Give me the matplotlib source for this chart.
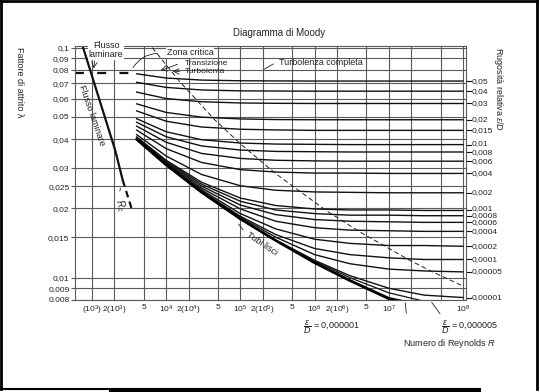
import matplotlib.pyplot as plt
from matplotlib.lines import Line2D
from matplotlib.transforms import offset_copy

plt.rcParams['font.family'] = ['Liberation Sans', 'DejaVu Sans']
plt.rcParams['mathtext.fontset'] = 'custom'
plt.rcParams['mathtext.rm'] = 'Liberation Sans'
plt.rcParams['mathtext.it'] = 'Liberation Sans:italic'
plt.rcParams['mathtext.cal'] = 'Liberation Sans'

W, H = 540, 392
TXT = '#222222'
GRID = '#5a5a5a'

# -- values --
re_pts = [4e3, 1e4, 3e4, 1e5, 3e5, 1e6, 3e6, 1e7, 3e7, 1e8]

f_05 = [0.0770, 0.0738, 0.0723, 0.0718, 0.0717, 0.0716, 0.0716, 0.0716, 0.0716, 0.0716]
f_04 = [0.0707, 0.0672, 0.0655, 0.0649, 0.0648, 0.0647, 0.0647, 0.0647, 0.0647, 0.0647]
f_03 = [0.0641, 0.0601, 0.0582, 0.0575, 0.0573, 0.0572, 0.0572, 0.0572, 0.0572, 0.0572]
f_02 = [0.0570, 0.0523, 0.0499, 0.0490, 0.0487, 0.0486, 0.0486, 0.0486, 0.0486, 0.0486]
f_015 = [0.0531, 0.0479, 0.0452, 0.0442, 0.0439, 0.0437, 0.0437, 0.0437, 0.0437, 0.0437]
f_01 = [0.0491, 0.0431, 0.0398, 0.0385, 0.0381, 0.0380, 0.0379, 0.0379, 0.0379, 0.0379]
f_008 = [0.0474, 0.0410, 0.0374, 0.0359, 0.0354, 0.0353, 0.0352, 0.0352, 0.0352, 0.0352]
f_006 = [0.0456, 0.0388, 0.0347, 0.0330, 0.0324, 0.0322, 0.0321, 0.0321, 0.0321, 0.0321]
f_004 = [0.0438, 0.0364, 0.0317, 0.0295, 0.0288, 0.0285, 0.0285, 0.0284, 0.0284, 0.0284]
f_002 = [0.0419, 0.0338, 0.0281, 0.0251, 0.0240, 0.0236, 0.0235, 0.0234, 0.0234, 0.0234]
f_001 = [0.0409, 0.0324, 0.0260, 0.0222, 0.0206, 0.0199, 0.0197, 0.0197, 0.0196, 0.0196]
f_0008 = [0.0407, 0.0321, 0.0255, 0.0215, 0.0197, 0.0190, 0.0187, 0.0187, 0.0186, 0.0186]
f_0006 = [0.0405, 0.0318, 0.0250, 0.0207, 0.0188, 0.0179, 0.0176, 0.0175, 0.0174, 0.0174]
f_0004 = [0.0403, 0.0315, 0.0245, 0.0199, 0.0176, 0.0165, 0.0161, 0.0160, 0.0159, 0.0159]
f_0002 = [0.0401, 0.0312, 0.0241, 0.0190, 0.0163, 0.0147, 0.0141, 0.0138, 0.0138, 0.0137]
f_0001 = [0.0400, 0.0311, 0.0238, 0.0185, 0.0154, 0.0134, 0.0126, 0.0122, 0.0120, 0.0120]
f_00005 = [0.0400, 0.0310, 0.0237, 0.0183, 0.0150, 0.0126, 0.0115, 0.0109, 0.0107, 0.0106]
f_00001 = [0.0399, 0.0309, 0.0235, 0.0180, 0.0146, 0.0119, 0.0102, 0.0090, 0.0084, 0.0082]
f_000005 = [0.0399, 0.0309, 0.0235, 0.0180, 0.0145, 0.0118, 0.0100, 0.0086, 0.0079, 0.0075]
f_000001 = [0.0399, 0.0309, 0.0235, 0.0180, 0.0145, 0.0117, 0.0098, 0.0082, 0.0076, 0.0072]
f_smooth = [0.0399, 0.0309, 0.0235, 0.0180, 0.0145, 0.0116, 0.0097, 0.0081, 0.0074, 0.0070]

rough_labels = ['0,05', '0,04', '0,03', '0,02', '0,015', '0,01', '0,008', '0,006',
                '0,004', '0,002', '0,001', '0,0008', '0,0006', '0,0004', '0,0002',
                '0,0001', '0,00005', '0,00001']
rough_curves = [f_05, f_04, f_03, f_02, f_015, f_01, f_008, f_006, f_004, f_002,
                f_001, f_0008, f_0006, f_0004, f_0002, f_0001, f_00005, f_00001]

# laminar flow line (solid, then dashed up to the critical zone)
lam_re = [760, 2050, 2600]
lam_f = [0.100, 0.0359, 0.0265]
lam_dash_re = [2600, 3500]
lam_dash_f = [0.0265, 0.0195]

# dashed level between laminar and turbulent
trans_re = [590, 4000]
trans_f = [0.078, 0.078]

# limit of complete turbulence
bound_re = [6500, 15000, 45000, 1.03e5, 2.97e5, 1.43e6, 3.97e6, 1.83e7, 3.9e7, 1e8]
bound_f = [0.100, 0.0716, 0.0486, 0.0379, 0.0284, 0.0196, 0.0159, 0.0120, 0.0106, 0.0092]

x_ticks = [1e3, 2e3, 5e3, 1e4, 2e4, 5e4, 1e5, 2e5, 5e5, 1e6, 2e6, 5e6, 1e7, 2e7, 5e7, 1e8]
x_labels = ['(10$^3$)', '2(10$^3$)', '5', '10$^4$', '2(10$^4$)', '5', '10$^5$', '2(10$^5$)',
            '5', '10$^6$', '2(10$^6$)', '5', '10$^7$', '', '', '10$^8$']
y_ticks = [0.1, 0.09, 0.08, 0.07, 0.06, 0.05, 0.04, 0.03, 0.025, 0.02, 0.015,
           0.01, 0.009, 0.008]
y_labels = ['0,1', '0,09', '0,08', '0,07', '0,06', '0.05', '0,04', '0,03', '0,025',
            '0,02', '0,015', '0,01', '0,009', '0.008']

# small vertical nudges (pixels) so crowded right-hand labels stay readable
label_nudge = {'0,01': 0.8, '0,008': -0.4, '0,001': 2.3, '0,0006': -0.6}


def fig_xy(x, y):
    return x / W, 1 - y / H


fig = plt.figure(figsize=(W / 100, H / 100), dpi=100)
ax = fig.add_axes([75 / W, 1 - 300 / H, (466 - 75) / W, (300 - 46) / H])
ax.set_xscale('log')
ax.set_yscale('log')
ax.set_xlim(590, 1.1e8)
ax.set_ylim(0.008, 0.1017)

ax.set_xticks(x_ticks)
ax.set_xticklabels(x_labels)
ax.set_yticks(y_ticks)
ax.set_yticklabels(y_labels)
ax.minorticks_off()
ax.grid(True, color=GRID, lw=0.8)
ax.tick_params(axis='x', length=0, pad=3, labelsize=6, labelcolor=TXT)
ax.tick_params(axis='y', length=3, width=0.8, color=GRID, pad=1, labelsize=6, labelcolor=TXT)
for sp in ax.spines.values():
    sp.set_color(GRID)
    sp.set_linewidth(0.8)

# curves
ytrans = ax.get_yaxis_transform()
for lab, f in zip(rough_labels, rough_curves):
    ax.plot(re_pts, f, color='#111111', lw=1.0)
    y = f[-1]
    ax.plot([1.0, 1.012], [y, y], color='#111111', lw=0.8,
            transform=ytrans, clip_on=False)
    tr = offset_copy(ytrans, fig=fig, y=label_nudge.get(lab, 0), units='dots')
    ax.text(1.014, y, lab, transform=tr, fontsize=6, va='center', ha='left', color=TXT)

ax.plot(re_pts, f_000005, color='#111111', lw=0.9)
ax.plot(re_pts, f_000001, color='#111111', lw=0.9)
ax.plot(re_pts, f_smooth, color='#000000', lw=1.8)

ax.plot(lam_re, lam_f, color='#111111', lw=1.6)
ax.plot(lam_dash_re, lam_dash_f, color='#111111', lw=1.6, dashes=(3, 2))
ax.plot(trans_re, trans_f, color='#111111', lw=1.6, dashes=(4, 6))
ax.plot(bound_re, bound_f, color='#222222', lw=0.7, dashes=(5, 3))

# annotations
box = dict(facecolor='white', edgecolor='none', pad=0.5)
arr = dict(arrowstyle='-', color='#222222', lw=0.6)

ax.text(1550, 0.0975, 'Flusso\nlaminare', fontsize=6.5, color=TXT, ha='center',
        va='center', linespacing=0.95, bbox=box, zorder=5)
ax.annotate('', xy=(1040, 0.079), xytext=(1100, 0.090),
            arrowprops=dict(arrowstyle='->', color='#222222', lw=0.6))
ax.text(1000, 0.051, 'Flusso laminare', fontsize=6.5, color=TXT, rotation=-71,
        ha='center', va='center')

ax.text(10200, 0.0953, 'Zona critica', fontsize=6.5, color=TXT, ha='left',
        va='center', bbox=box, zorder=5)
ax.annotate('', xy=(3430, 0.080), xytext=(8250, 0.0945),
            arrowprops=dict(arrowstyle='-', color='#222222', lw=0.6,
                            connectionstyle='arc3,rad=0.3'))
ax.text(17900, 0.0854, 'Transizione', fontsize=6, color=TXT, ha='left', va='center')
ax.annotate('', xy=(7750, 0.0787), xytext=(15300, 0.0855),
            arrowprops=dict(arrowstyle='->', color='#222222', lw=0.6))
ax.text(17900, 0.0786, 'Turbolenta', fontsize=6, color=TXT, ha='left', va='center')
ax.annotate('', xy=(11200, 0.0790), xytext=(16500, 0.0788),
            arrowprops=dict(arrowstyle='->', color='#222222', lw=0.6))
ax.text(330000, 0.0865, 'Turbolenza completa', fontsize=6.5, color=TXT, ha='left',
        va='center')
ax.annotate('', xy=(195000, 0.0795), xytext=(300000, 0.0862), arrowprops=arr)

ax.text(195000, 0.0140, 'Tubi lisci', fontsize=6.5, color=TXT, rotation=-34,
        ha='center', va='center')
ax.annotate('', xy=(89000, 0.0175), xytext=(115000, 0.0158), arrowprops=arr)

ax.text(2380, 0.0207, '$\\mathit{R}_c$', fontsize=7, color=TXT, rotation=-75,
        ha='center', va='center')
ax.annotate('', xy=(2330, 0.0252), xytext=(2250, 0.0233),
            arrowprops=dict(arrowstyle='-', color='#222222', lw=0.6,
                            connectionstyle='arc3,rad=0.4'))

ax.annotate('', xy=(1.65e7, 0.008), xytext=(406.7, H - 316),
            textcoords='figure pixels', arrowprops=arr, annotation_clip=False)
ax.annotate('', xy=(3.6e7, 0.008), xytext=(441.7, H - 316),
            textcoords='figure pixels', arrowprops=arr, annotation_clip=False)

fig.text(*fig_xy(303, 327), '$\\dfrac{\\varepsilon}{D}$ = 0,000001', fontsize=6.5,
         color=TXT, ha='left', va='center')
fig.text(*fig_xy(441, 327), '$\\dfrac{\\varepsilon}{D}$ = 0,000005', fontsize=6.5,
         color=TXT, ha='left', va='center')
fig.text(*fig_xy(403, 343), 'Numero di Reynolds $\\mathit{R}$', fontsize=6.5,
         color=TXT, ha='left', va='center')

fig.text(*fig_xy(279, 33), 'Diagramma di Moody', fontsize=7, color=TXT,
         ha='center', va='center')
fig.text(*fig_xy(19, 47), 'Fattore di attrito λ', fontsize=6.5, color=TXT,
         rotation=270, ha='center', va='top')
fig.text(*fig_xy(498, 47), 'Rugosità relativa $\\varepsilon/D$', fontsize=6.5,
         color=TXT, rotation=270, ha='center', va='top')

# page frame of the scan
for (x0, y0), (x1, y1), lw in [((1, 1), (537, 1), 2), ((1, 1), (1, 389), 2),
                               ((537, 1), (537, 389), 2), ((1, 389), (480, 389), 1.5),
                               ((110, 391), (480, 391), 1.5)]:
    xa, ya = fig_xy(x0, y0)
    xb, yb = fig_xy(x1, y1)
    fig.add_artist(Line2D([xa, xb], [ya, yb], color='black', lw=lw,
                          transform=fig.transFigure))

fig.savefig('out.png', dpi=100)
